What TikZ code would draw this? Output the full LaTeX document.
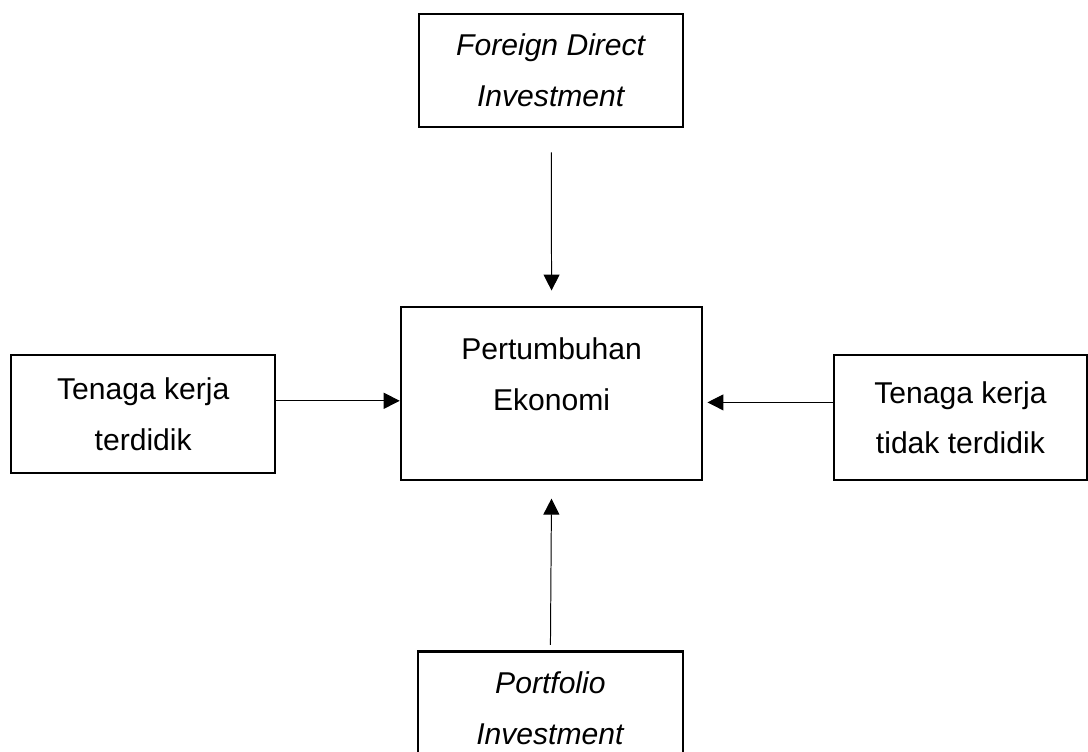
\documentclass[tikz,border=0pt]{standalone}
\usepackage{fontspec}
\setmainfont{Liberation Sans}
\usetikzlibrary{arrows.meta}
\begin{document}
\begin{tikzpicture}[box/.style={draw, line width=1.8pt, inner sep=0pt, align=center,
    font=\fontsize{21.4}{36}\selectfont},
  arr/.style={line width=0.7pt, -{Triangle[length=0.4cm,width=0.4cm]}}]
\useasboundingbox (0,0) rectangle (27.2,-18.8);
\node (fdi) at (13.78, -1.76) [box, minimum width=6.6cm, minimum height=2.83cm] {\textit{Foreign Direct}\\\textit{Investment}};
\node (pe) at (13.79, -9.84) [box, minimum width=7.53cm, minimum height=4.33cm] {Pertumbuhan\\Ekonomi\\[-0.3cm]~};
\node (tk) at (3.58, -10.35) [box, minimum width=6.6cm, minimum height=2.95cm] {Tenaga kerja\\terdidik};
\node (tt) at (24.01, -10.44) [box, minimum width=6.33cm, minimum height=3.13cm] {Tenaga kerja\\tidak terdidik};
\node (pi) at (13.76, -17.7) [box, minimum width=6.63cm, minimum height=2.83cm] {\textit{Portfolio}\\\textit{Investment}};

\coordinate (ta) at ([yshift=0.33cm]tk.east);
\coordinate (tb) at ([yshift=0.38cm]tt.west);
\draw[arr, shorten <=0.6cm, shorten >=0.38cm] (fdi.south) to (pe.north);
\draw[arr, shorten <=0.13cm, shorten >=0.43cm] (pi.north) to (pe.south);
\draw[arr] (ta) to (ta -| pe.west);
\draw[arr, shorten >=0.1cm] (tb) to (tb -| pe.east);
\end{tikzpicture}
\end{document}
